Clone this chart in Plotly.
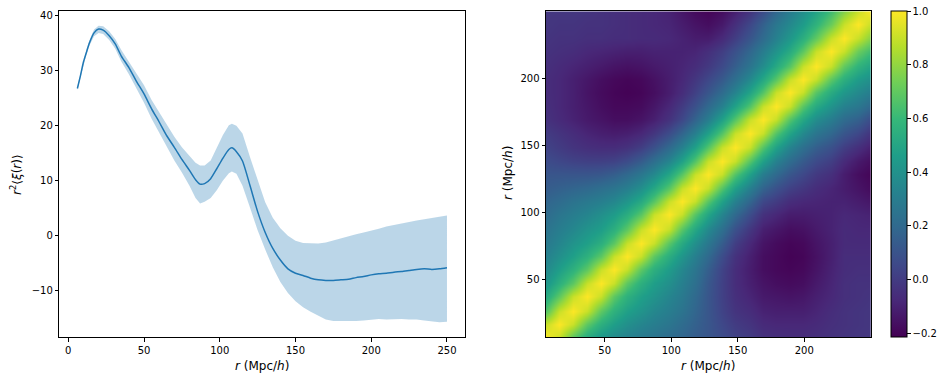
import plotly.graph_objects as go

# ---------------- left panel data ----------------
r_vals = [6, 8, 10, 12, 14, 17, 20, 23, 27, 31, 35, 40, 45, 50, 55, 60, 65, 70, 75, 80,
          84, 87, 90, 94, 98, 102, 106, 108, 111, 115, 120, 125, 130, 135, 140, 145, 150,
          155, 160, 165, 170, 175, 180, 185, 190, 195, 200, 205, 210, 215, 220, 225, 230,
          235, 240, 245, 250]
xi_mean = [26.7, 29.0, 31.5, 33.3, 35.0, 36.8, 37.5, 37.3, 36.3, 34.8, 32.6, 30.5, 28.0, 25.7,
           23.0, 20.6, 18.1, 16.0, 13.8, 11.8, 10.1, 9.3, 9.4, 10.3, 12.1, 14.0, 15.6, 15.9,
           15.2, 13.5, 9.0, 4.3, 0.5, -2.4, -4.5, -6.1, -6.9, -7.3, -7.8, -8.1, -8.2, -8.2,
           -8.1, -8.0, -7.7, -7.5, -7.2, -7.0, -6.9, -6.7, -6.6, -6.4, -6.2, -6.1, -6.2, -6.1, -5.9]
xi_upper = [27.0, 29.4, 31.9, 33.8, 35.5, 37.4, 38.1, 38.0, 37.1, 35.7, 33.7, 31.6, 29.3, 27.3,
            24.6, 22.3, 20.0, 17.9, 16.0, 14.4, 13.2, 12.7, 12.7, 13.6, 16.0, 18.2, 20.0, 20.3,
            19.9, 18.5, 14.2, 10.0, 6.0, 3.2, 1.3, -0.1, -1.0, -1.4, -1.5, -1.5, -1.3, -0.9,
            -0.5, -0.1, 0.2, 0.5, 0.8, 1.2, 1.6, 1.9, 2.1, 2.4, 2.7, 2.9, 3.1, 3.3, 3.6]
xi_lower = [26.4, 28.6, 31.1, 32.9, 34.5, 36.2, 36.8, 36.6, 35.5, 33.9, 31.6, 29.3, 26.7, 24.1,
            21.2, 18.6, 16.0, 13.6, 11.4, 9.0, 6.8, 5.8, 6.1, 6.8, 8.2, 9.9, 11.3, 11.6,
            11.2, 9.0, 5.0, 0.9, -2.6, -5.8, -8.5, -10.5, -12.0, -13.1, -13.9, -14.6, -15.3,
            -15.6, -15.6, -15.7, -15.6, -15.5, -15.3, -15.2, -15.3, -15.2, -15.2, -15.3, -15.3,
            -15.5, -15.7, -15.8, -15.7]

# ---------------- right panel data (correlation matrix) ----------------
r_nodes = [6, 16, 26, 37, 47, 57, 67, 77, 87, 98, 108, 118, 128, 138, 148, 159, 169, 179,
           189, 199, 209, 220, 230, 240, 250]
# lower-triangle rows: corr_rows[i][j] = corr(r_nodes[i], r_nodes[j]) for j <= i
corr_rows = [
    [1.0],
    [0.90, 1.0],
    [0.67, 0.90, 1.0],
    [0.52, 0.69, 0.90, 1.0],
    [0.42, 0.55, 0.69, 0.90, 1.0],
    [0.36, 0.46, 0.56, 0.69, 0.90, 1.0],
    [0.32, 0.39, 0.47, 0.56, 0.69, 0.90, 1.0],
    [0.28, 0.34, 0.41, 0.47, 0.55, 0.69, 0.90, 1.0],
    [0.25, 0.30, 0.35, 0.41, 0.46, 0.55, 0.69, 0.90, 1.0],
    [0.21, 0.26, 0.30, 0.34, 0.39, 0.45, 0.54, 0.68, 0.90, 1.0],
    [0.18, 0.21, 0.25, 0.28, 0.31, 0.35, 0.42, 0.52, 0.68, 0.90, 1.0],
    [0.14, 0.16, 0.18, 0.20, 0.23, 0.26, 0.31, 0.39, 0.51, 0.68, 0.90, 1.0],
    [0.11, 0.11, 0.11, 0.11, 0.12, 0.15, 0.20, 0.27, 0.36, 0.50, 0.68, 0.90, 1.0],
    [0.07, 0.05, 0.03, 0.02, 0.02, 0.03, 0.07, 0.14, 0.23, 0.34, 0.48, 0.67, 0.90, 1.0],
    [0.03, 0.00, -0.03, -0.05, -0.06, -0.06, -0.04, 0.01, 0.09, 0.20, 0.32, 0.47, 0.67, 0.90, 1.0],
    [0.00, -0.03, -0.06, -0.09, -0.11, -0.12, -0.11, -0.08, -0.02, 0.07, 0.18, 0.31, 0.47, 0.67,
     0.90, 1.0],
    [-0.04, -0.07, -0.10, -0.13, -0.15, -0.17, -0.17, -0.15, -0.11, -0.04, 0.05, 0.17, 0.30, 0.47,
     0.67, 0.90, 1.0],
    [-0.05, -0.08, -0.11, -0.14, -0.17, -0.19, -0.19, -0.18, -0.14, -0.08, 0.00, 0.09, 0.20, 0.32,
     0.48, 0.67, 0.90, 1.0],
    [-0.06, -0.08, -0.11, -0.15, -0.18, -0.20, -0.21, -0.20, -0.17, -0.12, -0.06, 0.02, 0.11, 0.21,
     0.33, 0.49, 0.67, 0.90, 1.0],
    [-0.06, -0.08, -0.11, -0.14, -0.17, -0.19, -0.20, -0.19, -0.16, -0.12, -0.08, -0.02, 0.05, 0.13,
     0.23, 0.36, 0.51, 0.68, 0.90, 1.0],
    [-0.05, -0.07, -0.09, -0.11, -0.13, -0.15, -0.16, -0.15, -0.13, -0.11, -0.09, -0.06, -0.01, 0.06,
     0.15, 0.26, 0.38, 0.52, 0.68, 0.90, 1.0],
    [-0.04, -0.05, -0.06, -0.08, -0.09, -0.10, -0.11, -0.11, -0.10, -0.10, -0.10, -0.09, -0.05, 0.01,
     0.09, 0.19, 0.30, 0.41, 0.53, 0.69, 0.90, 1.0],
    [-0.03, -0.04, -0.04, -0.05, -0.05, -0.06, -0.06, -0.07, -0.07, -0.08, -0.10, -0.12, -0.12, -0.07,
     0.01, 0.11, 0.21, 0.32, 0.43, 0.55, 0.70, 0.90, 1.0],
    [-0.02, -0.03, -0.03, -0.04, -0.04, -0.05, -0.06, -0.07, -0.08, -0.09, -0.12, -0.15, -0.17, -0.13,
     -0.05, 0.05, 0.16, 0.27, 0.36, 0.45, 0.57, 0.72, 0.90, 1.0],
    [-0.02, -0.02, -0.02, -0.03, -0.04, -0.05, -0.06, -0.07, -0.08, -0.10, -0.14, -0.18, -0.20, -0.17,
     -0.11, -0.03, 0.07, 0.19, 0.30, 0.39, 0.49, 0.62, 0.77, 0.90, 1.0],
]
n = len(r_nodes)
corr = [[corr_rows[max(i, j)][min(i, j)] for j in range(n)] for i in range(n)]

cbar_ticks = [-0.2, 0.0, 0.2, 0.4, 0.6, 0.8, 1.0]
left_xticks = [0, 50, 100, 150, 200, 250]
left_yticks = [-10, 0, 10, 20, 30, 40]
right_ticks = [50, 100, 150, 200]

# ---------------- figure ----------------
W, H = 945, 382
FONT = "DejaVu Sans"
BLUE = "#1f77b4"

fig = go.Figure()
fig.add_trace(go.Scatter(x=r_vals, y=xi_lower, mode="lines", line=dict(width=0),
                         hoverinfo="skip", showlegend=False, xaxis="x", yaxis="y"))
fig.add_trace(go.Scatter(x=r_vals, y=xi_upper, mode="lines", line=dict(width=0),
                         fill="tonexty", fillcolor="rgba(31,119,180,0.3)",
                         hoverinfo="skip", showlegend=False, xaxis="x", yaxis="y"))
fig.add_trace(go.Scatter(x=r_vals, y=xi_mean, mode="lines",
                         line=dict(color=BLUE, width=1.5, shape="spline", smoothing=0.6),
                         showlegend=False, xaxis="x", yaxis="y"))

fig.add_trace(go.Heatmap(
    x=r_nodes, y=r_nodes, z=corr, colorscale="Viridis", zmin=-0.216, zmax=1.0,
    zsmooth="best", xaxis="x2", yaxis="y2",
    colorbar=dict(
        x=891 / W, xanchor="left", xref="paper", xpad=0,
        y=1 - 174.3 / H, yanchor="middle", yref="paper", ypad=0,
        len=326 / H, lenmode="fraction", thickness=16, thicknessmode="pixels",
        outlinewidth=1, outlinecolor="black",
        tickvals=cbar_ticks, tickformat=".1f", ticks="outside", ticklen=3.5,
        tickwidth=1, tickcolor="black", tickfont=dict(family=FONT, size=10, color="black"),
    ),
))

axis_common = dict(showgrid=False, zeroline=False, showline=True, mirror=True,
                   linecolor="black", linewidth=1, ticks="outside", ticklen=3.5,
                   tickwidth=1, tickcolor="black",
                   tickfont=dict(family=FONT, size=10, color="black"))

fig.update_layout(
    width=W, height=H, margin=dict(l=0, r=0, t=0, b=0, autoexpand=False),
    paper_bgcolor="white", plot_bgcolor="white",
    font=dict(family=FONT, size=10, color="black"),
    xaxis=dict(domain=[59.3 / W, 465.3 / W], range=[-5.94, 262.1],
               tickvals=left_xticks, anchor="y", **axis_common),
    yaxis=dict(domain=[1 - 337.3 / H, 1 - 11.3 / H], range=[-18.55, 40.73],
               tickvals=left_yticks, anchor="x", **axis_common),
    xaxis2=dict(domain=[546 / W, 870.7 / W], range=[5.9, 249.9],
                tickvals=right_ticks, anchor="y2", **axis_common),
    yaxis2=dict(domain=[1 - 337.3 / H, 1 - 11.3 / H], range=[6.5, 249.8],
                tickvals=right_ticks, anchor="x2", **axis_common),
)

label_font = dict(family=FONT, size=12, color="black")
xlabel = "<i>r</i> (Mpc/<i>h</i>)"
fig.add_annotation(x=262 / W, y=1 - 366 / H, xref="paper", yref="paper", text=xlabel,
                   showarrow=False, font=label_font, xanchor="center", yanchor="middle")
fig.add_annotation(x=708 / W, y=1 - 366 / H, xref="paper", yref="paper", text=xlabel,
                   showarrow=False, font=label_font, xanchor="center", yanchor="middle")
fig.add_annotation(x=16 / W, y=1 - 175 / H, xref="paper", yref="paper",
                   text="<i>r</i><sup>2</sup>⟨<i>ξ</i>(<i>r</i>)⟩",
                   showarrow=False, font=label_font, textangle=-90,
                   xanchor="center", yanchor="middle")
fig.add_annotation(x=508 / W, y=1 - 173 / H, xref="paper", yref="paper", text=xlabel,
                   showarrow=False, font=label_font, textangle=-90,
                   xanchor="center", yanchor="middle")

fig.write_html("out.html", config={"displayModeBar": False},
               post_script="document.body.style.margin='0';"
               "document.body.style.overflow='hidden';")
